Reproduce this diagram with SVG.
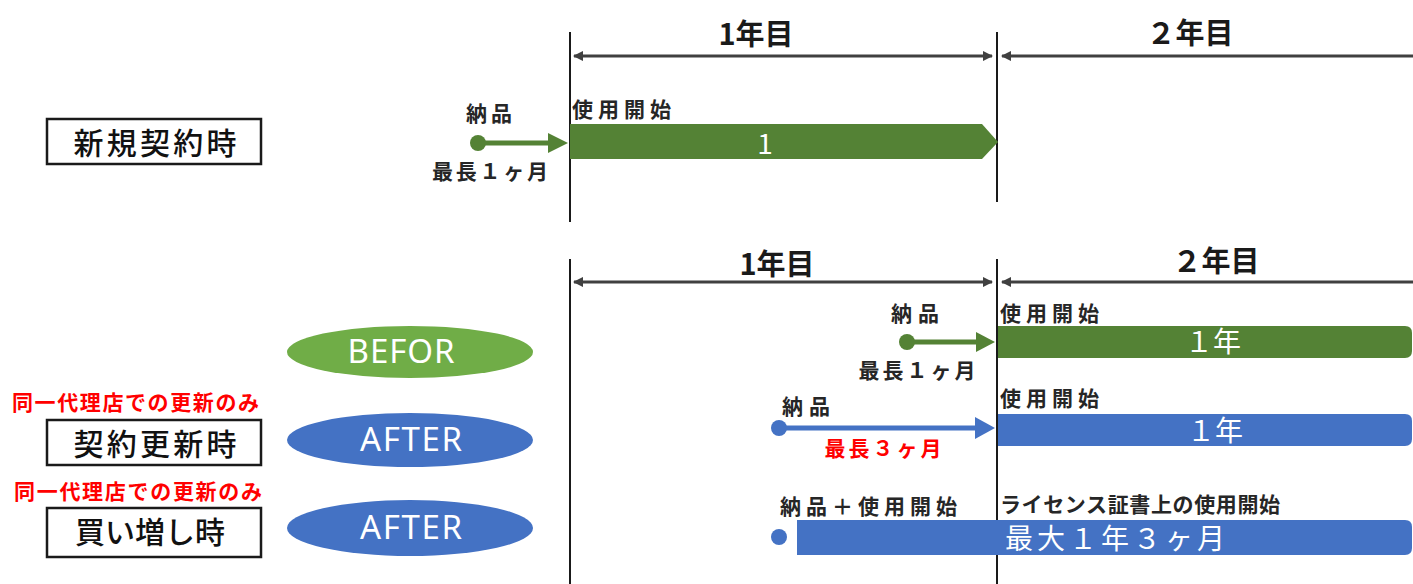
<svg xmlns="http://www.w3.org/2000/svg" width="1413" height="584" viewBox="0 0 1413 584">
<style>
.lbl{font-family:"Noto Sans CJK JP","Noto Sans",sans-serif;font-size:21px;font-weight:bold;fill:#262626;dominant-baseline:central;}
.red{font-family:"Noto Sans CJK JP","Noto Sans",sans-serif;font-size:21px;font-weight:bold;fill:#FF0000;dominant-baseline:central;}
.yr{font-family:"Noto Sans CJK JP","Noto Sans",sans-serif;font-size:29px;font-weight:bold;fill:#1a1a1a;text-anchor:middle;dominant-baseline:central;}
.boxt{font-family:"Noto Sans CJK JP","Noto Sans",sans-serif;font-size:30px;font-weight:500;fill:#111;text-anchor:middle;dominant-baseline:central;}
.box{fill:#fff;stroke:#1a1a1a;stroke-width:2.5;}
.bart{font-family:"Noto Sans CJK JP","Noto Sans",sans-serif;font-size:28px;fill:#fff;text-anchor:middle;dominant-baseline:central;}
.ell{font-family:"Noto Sans","Noto Sans CJK JP",sans-serif;font-size:33px;fill:#fff;text-anchor:middle;dominant-baseline:central;}
.vline{stroke:#1a1a1a;stroke-width:2;}
.dim{stroke:#404040;stroke-width:3;fill:none;}
</style>
<defs>
<marker id="dimEnd" viewBox="0 0 10 10" refX="9" refY="5" markerWidth="3.5" markerHeight="3.5" orient="auto-start-reverse">
<path d="M0,0 L10,5 L0,10 z" fill="#404040"/>
</marker>
</defs>
<rect width="1413" height="584" fill="#fff"/>

<g id="connectors">
<line class="vline" x1="570" y1="32" x2="570" y2="222"/>
<line class="vline" x1="997" y1="32" x2="997" y2="202"/>
<line class="dim" x1="574" y1="56" x2="992" y2="56" marker-start="url(#dimEnd)" marker-end="url(#dimEnd)"/>
<line class="dim" x1="1002" y1="56" x2="1413" y2="56" marker-start="url(#dimEnd)"/>
<line class="vline" x1="570" y1="259" x2="570" y2="584"/>
<line class="vline" x1="997" y1="259" x2="997" y2="584"/>
<line class="dim" x1="574" y1="282" x2="992" y2="282" marker-start="url(#dimEnd)" marker-end="url(#dimEnd)"/>
<line class="dim" x1="1002" y1="282" x2="1413" y2="282" marker-start="url(#dimEnd)"/>
</g>

<g id="year-labels">
<text class="yr" x="756" y="32">1年目</text>
<text class="yr" x="1190" y="31">２年目</text>
<text class="yr" x="777" y="262">1年目</text>
<text class="yr" x="1216" y="259">２年目</text>
</g>

<g id="new-contract">
<rect class="box" x="47" y="119" width="214" height="45"/>
<text class="boxt" x="155" y="141" textLength="163" lengthAdjust="spacing">新規契約時</text>
</g>

<g id="new-delivery">
<text class="lbl" x="489" y="112" text-anchor="middle" textLength="46" lengthAdjust="spacing">納品</text>
<circle cx="478" cy="143" r="8" fill="#548235"/>
<line x1="478" y1="143" x2="552" y2="143" stroke="#548235" stroke-width="5"/>
<path d="M548,133 L568,143 L548,153 z" fill="#548235"/>
<text class="lbl" x="490" y="170" text-anchor="middle" textLength="116" lengthAdjust="spacing">最長１ヶ月</text>
</g>

<g id="new-bar">
<text class="lbl" x="572" y="108" textLength="99" lengthAdjust="spacing">使用開始</text>
<path d="M570,124 L982,124 L998,142 L982,159 L570,159 z" fill="#548235"/>
<text class="bart" x="765" y="142">1</text>
</g>

<g id="before-oval">
<ellipse cx="410" cy="352" rx="123" ry="26" fill="#70AD47"/>
<text class="ell" x="401" y="350" textLength="107" lengthAdjust="spacing">BEFOR</text>
</g>

<g id="renewal">
<text class="red" x="12" y="401" textLength="247" lengthAdjust="spacing">同一代理店での更新のみ</text>
<rect class="box" x="47" y="420" width="214" height="45"/>
<text class="boxt" x="155" y="442" textLength="163" lengthAdjust="spacing">契約更新時</text>
</g>

<g id="renewal-oval">
<ellipse cx="410" cy="440" rx="123" ry="27" fill="#4472C4"/>
<text class="ell" x="411" y="438" textLength="102" lengthAdjust="spacing">AFTER</text>
</g>

<g id="addon">
<text class="red" x="14" y="490" textLength="248" lengthAdjust="spacing">同一代理店での更新のみ</text>
<rect class="box" x="47" y="508" width="214" height="49"/>
<text class="boxt" x="150" y="530" textLength="150" lengthAdjust="spacing">買い増し時</text>
</g>

<g id="addon-oval">
<ellipse cx="410" cy="528" rx="123" ry="28" fill="#4472C4"/>
<text class="ell" x="411" y="526" textLength="102" lengthAdjust="spacing">AFTER</text>
</g>

<g id="before-timeline">
<text class="lbl" x="915" y="312" text-anchor="middle" textLength="48" lengthAdjust="spacing">納品</text>
<circle cx="907" cy="342" r="8" fill="#548235"/>
<line x1="907" y1="342" x2="980" y2="342" stroke="#548235" stroke-width="5"/>
<path d="M976,332 L995,342 L976,352 z" fill="#548235"/>
<text class="lbl" x="917" y="369" text-anchor="middle" textLength="117" lengthAdjust="spacing">最長１ヶ月</text>
<text class="lbl" x="1000" y="312" textLength="99" lengthAdjust="spacing">使用開始</text>
<path d="M998,326 L1405,326 Q1412,326 1412,333 L1412,351 Q1412,358 1405,358 L998,358 z" fill="#548235"/>
<text class="bart" x="1213" y="340">１年</text>
</g>

<g id="renewal-timeline">
<text class="lbl" x="806" y="405" text-anchor="middle" textLength="48" lengthAdjust="spacing">納品</text>
<circle cx="779" cy="428" r="8" fill="#4472C4"/>
<line x1="779" y1="428" x2="978" y2="428" stroke="#4472C4" stroke-width="5"/>
<path d="M975,417 L995,428 L975,439 z" fill="#4472C4"/>
<text class="red" x="883" y="447" text-anchor="middle" textLength="117" lengthAdjust="spacing">最長３ヶ月</text>
<text class="lbl" x="1000" y="397" textLength="99" lengthAdjust="spacing">使用開始</text>
<path d="M998,414 L1405,414 Q1412,414 1412,421 L1412,439 Q1412,446 1405,446 L998,446 z" fill="#4472C4"/>
<text class="bart" x="1215" y="429">１年</text>
</g>

<g id="addon-timeline">
<text class="lbl" x="780" y="505" textLength="177" lengthAdjust="spacing">納品＋使用開始</text>
<text class="lbl" x="1000" y="503" textLength="280" lengthAdjust="spacing">ライセンス証書上の使用開始</text>
<circle cx="779" cy="537" r="8" fill="#4472C4"/>
<path d="M797,520 L1405,520 Q1412,520 1412,527 L1412,548 Q1412,555 1405,555 L797,555 z" fill="#4472C4"/>
<text class="bart" x="1115" y="537" font-size="30" textLength="220" lengthAdjust="spacing">最大１年３ヶ月</text>
</g>
</svg>
